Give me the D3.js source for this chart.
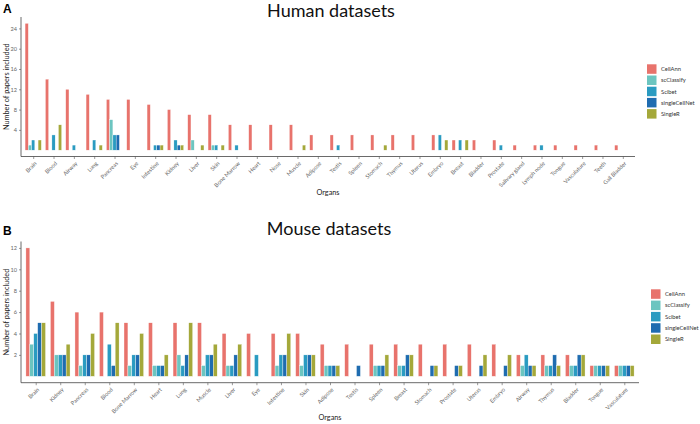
<!DOCTYPE html>
<html><head><meta charset="utf-8">
<script src="https://cdn.jsdelivr.net/npm/d3@7"></script>
<style>
body{margin:0;background:#fff;}
svg{display:block;font-family:Lato,"Open Sans",sans-serif;}
</style></head>
<body><svg id="c" width="700" height="424"></svg>
<script>
const methods = ["CellAnn","scClassify","Scibet","singleCellNet","SingleR"];
const colors = ["#E8736C","#6CC5C0","#2A9BC1","#1F6CB0","#A4A83A"];

const humanOrgans = ["Brain","Blood","Airway","Lung","Pancreas","Eye","Intestine","Kidney","Liver","Skin","Bone Marrow","Heart","Nose","Muscle","Adipose","Testis","Spleen","Stomach","Thymus","Uterus","Embryo","Breast","Bladder","Prostate","Salivary gland","Lymph node","Tongue","Vasculature","Teeth","Gall Bladder"];
const humanCellAnn      = [25,14,12,11,10,10,9,8,7,7,5,5,5,5,3,3,3,3,3,3,3,2,2,2,1,1,1,1,1,1];
const humanScClassify   = [1,0,0,0,6,0,0,0,2,1,0,0,0,0,0,0,0,0,0,0,0,0,0,0,0,0,0,0,0,0];
const humanScibet       = [2,3,1,2,3,0,1,2,0,1,1,0,0,0,0,1,0,0,0,0,3,2,0,1,0,1,0,0,0,0];
const humanSingleCellNet= [0,0,0,0,3,0,1,1,0,0,0,0,0,0,0,0,0,0,0,0,0,0,0,0,0,0,0,0,0,0];
const humanSingleR      = [2,5,0,1,0,0,1,1,1,1,0,0,0,1,0,0,0,1,0,0,2,2,0,0,0,0,0,0,0,0];
const humanTicks = [4,8,12,16,20,24];

const mouseOrgans = ["Brain","Kidney","Pancreas","Blood","Bone Marrow","Heart","Lung","Muscle","Liver","Eye","Intestine","Skin","Adipose","Testis","Spleen","Breast","Stomach","Prostate","Uterus","Embryo","Airway","Thymus","Bladder","Tongue","Vasculature"];
const mouseCellAnn      = [12,7,6,6,5,5,5,5,4,4,4,4,3,3,3,3,3,3,3,3,2,2,2,1,1];
const mouseScClassify   = [3,2,1,0,1,1,2,1,1,0,1,1,1,0,1,1,0,0,0,0,1,1,1,1,1];
const mouseScibet       = [4,2,2,3,2,1,1,2,1,2,2,2,1,0,1,1,0,0,0,0,2,1,1,1,1];
const mouseSingleCellNet= [5,2,2,1,2,1,2,2,2,0,2,2,1,1,1,2,1,1,1,1,1,2,2,1,1];
const mouseSingleR      = [5,3,4,5,4,2,5,3,3,0,4,2,1,0,2,2,1,1,2,2,1,1,2,1,1];
const mouseTicks = [2,4,6,8,10,12];

const svg = d3.select("#c");

function panel(cfg){
  const g = svg.append("g");
  const series = cfg.series;
  const x = d3.scalePoint().domain(cfg.organs).range([cfg.x0, cfg.x1]).padding(0.6);
  const step = x.step();
  const gw = step*0.8, bw = gw/5;
  const y = d3.scaleLinear().domain(cfg.ydom).range([cfg.yb, cfg.yt]);

  // bars
  cfg.organs.forEach((o,i)=>{
    series.forEach((s,j)=>{
      const v = s[i];
      if(v<=0) return;
      g.append("rect")
        .attr("x", x(o)-gw/2 + j*bw)
        .attr("y", y(v))
        .attr("width", bw)
        .attr("height", y(0)-y(v))
        .attr("fill", colors[j])
        .attr("stroke","#fff").attr("stroke-width",0.35);
    });
  });

  // axes
  const ax = g.append("g").attr("transform",`translate(0,${cfg.yb})`)
    .call(d3.axisBottom(x).tickSize(2.5).tickPadding(2));
  ax.select(".domain").attr("stroke","#444").attr("stroke-width",0.8).attr("d",`M${cfg.x0},0H${cfg.x1}`);
  ax.selectAll(".tick line").attr("stroke","#555").attr("stroke-width",0.6);
  ax.selectAll(".tick text")
    .attr("font-size",5.6).attr("fill","#666").attr("font-family","Lato,sans-serif")
    .attr("text-anchor","end").attr("dy","0.3em")
    .attr("transform","translate(-1,3) rotate(-45)");

  const ay = g.append("g").attr("transform",`translate(${cfg.x0},0)`)
    .call(d3.axisLeft(y).tickValues(cfg.ticks).tickSize(2).tickPadding(2));
  ay.select(".domain").attr("stroke","#444").attr("stroke-width",0.8).attr("d",`M0,${cfg.yt}V${cfg.yb}`);
  ay.selectAll(".tick line").attr("stroke","#555").attr("stroke-width",0.6);
  ay.selectAll(".tick text").attr("font-size",5.6).attr("fill","#666").attr("font-family","Lato,sans-serif");

  // titles
  g.append("text").attr("x",cfg.titleX).attr("y",cfg.titleY).attr("text-anchor","middle")
    .attr("font-size",18).attr("fill","#111").attr("font-family","Lato,sans-serif").text(cfg.title);
  g.append("text").attr("x",3).attr("y",cfg.letterY).attr("font-size",12).attr("font-weight","bold")
    .attr("font-family","'Liberation Sans',Arial,sans-serif").attr("fill","#000").text(cfg.letter);
  g.append("text").attr("transform",`translate(9,${(cfg.yt+cfg.yb)/2}) rotate(-90)`)
    .attr("text-anchor","middle").attr("font-size",7.3).attr("fill","#222").text("Number of papers included");
  g.append("text").attr("x",(cfg.x0+cfg.x1)/2).attr("y",cfg.orgY).attr("text-anchor","middle")
    .attr("font-size",7.3).attr("fill","#222").text("Organs");

  // legend
  methods.forEach((m,j)=>{
    g.append("rect").attr("x",cfg.legX).attr("y",cfg.legY + j*cfg.legStep)
      .attr("width",9.5).attr("height",9.5).attr("fill",colors[j]);
    g.append("text").attr("x",cfg.legX+14).attr("y",cfg.legY + j*cfg.legStep+6.8)
      .attr("font-size",5.8).attr("fill","#333").text(m);
  });
}

panel({
  organs: humanOrgans,
  series: [humanCellAnn,humanScClassify,humanScibet,humanSingleCellNet,humanSingleR],
  ticks: humanTicks,
  x0:21, x1:635, yt:17, yb:156.5, ydom:[-1.25,26.25],
  title:"Human datasets", titleX:331, titleY:17, letter:"A", letterY:13,
  orgY:195, legX:647, legY:64.3, legStep:11.2
});
panel({
  organs: mouseOrgans,
  series: [mouseCellAnn,mouseScClassify,mouseScibet,mouseSingleCellNet,mouseSingleR],
  ticks: mouseTicks,
  x0:21, x1:639, yt:241.5, yb:382.7, ydom:[-0.6,12.6],
  title:"Mouse datasets", titleX:329, titleY:235, letter:"B", letterY:235,
  orgY:420, legX:651, legY:289.3, legStep:11.3
});
</script></body></html>
